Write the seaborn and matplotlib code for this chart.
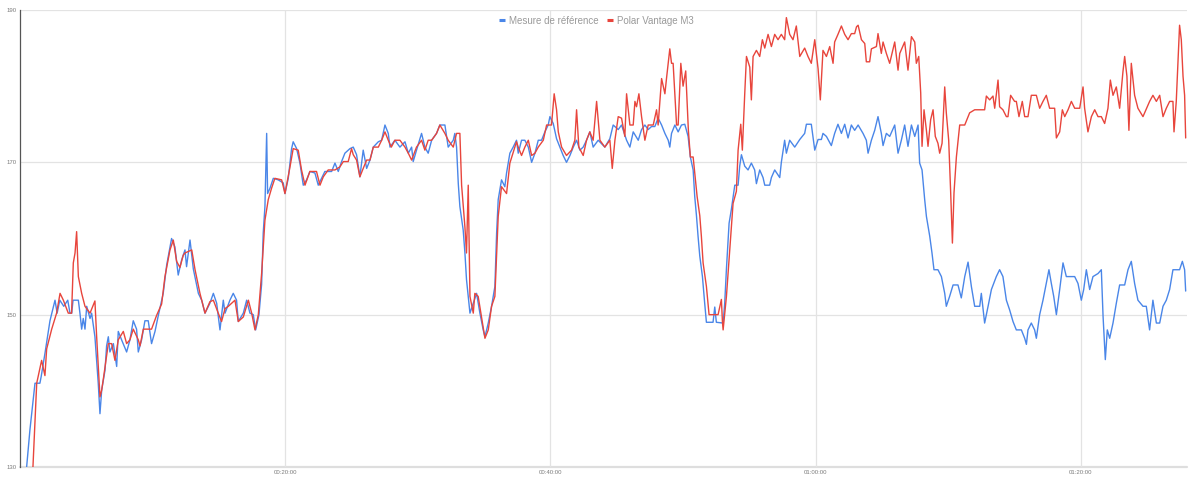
import numpy as np
import pandas as pd
import matplotlib
matplotlib.use("Agg")
import matplotlib.pyplot as plt
from matplotlib.lines import Line2D
from matplotlib.ticker import FixedLocator, FuncFormatter
import seaborn as sns

# ---------------- data (time in minutes, heart rate in bpm) ----------------
series_names = ["Mesure de référence", "Polar Vantage M3"]
series_colors = ["#4a86e8", "#e8453c"]

ref_t = [0.5, 0.75, 1.13, 1.5, 1.6, 1.88, 2.26, 2.64, 2.8, 3.0, 3.3, 3.6, 3.77, 3.9, 4.0, 4.4, 4.52, 4.65, 4.77, 4.9,
         5.03, 5.28, 5.4, 5.65, 5.9, 6.03, 6.16, 6.41, 6.53, 6.66, 6.78, 7.04, 7.29, 7.41, 7.66, 8.04, 8.29, 8.54, 8.79, 8.92,
         9.17, 9.42, 9.67, 9.92, 10.18, 10.43, 10.8, 11.06, 11.43, 11.68, 11.93, 12.19, 12.44, 12.56, 12.82,
         13.07, 13.45, 13.7, 13.95, 14.32, 14.58, 14.83, 15.08, 15.33, 15.46, 15.83, 16.08, 16.33, 16.46, 16.84, 17.09, 17.34,
         17.59, 17.77, 18.02, 18.22, 18.34, 18.47, 18.6, 18.67, 18.85, 19.1, 19.47, 19.85, 19.98, 20.23, 20.48, 20.6, 20.86,
         21.11, 21.36, 21.61, 21.86, 22.24, 22.49, 22.74, 22.99, 23.5, 23.75, 24.0, 24.25, 24.5, 24.88,
         25.13, 25.38, 25.63, 25.88, 26.14, 26.39, 26.64, 27.02, 27.27, 27.52, 27.77, 27.9, 28.27, 28.65, 29.03, 29.28, 29.53,
         29.65, 29.9, 30.28, 30.53, 30.78, 31.04, 31.41, 31.66, 32.04, 32.29, 32.67, 32.79, 32.92, 33.05, 33.17, 33.42, 33.55,
         33.67, 33.93, 34.18, 34.43, 34.68, 34.93, 35.06, 35.31, 35.56, 35.81, 35.94, 36.06, 36.31, 36.56, 36.69, 36.94, 37.19,
         37.44,
         37.57, 37.82, 38.07, 38.33, 38.58, 38.83, 39.08, 39.33, 39.58, 39.83, 39.96, 40.21, 40.46, 40.71, 40.96, 41.21, 41.47,
         41.72, 41.97, 42.22, 42.47, 42.72, 42.97, 43.22, 43.6, 44.1, 44.48, 44.73, 45.11, 45.36, 45.74, 45.99, 46.24, 46.62,
         46.87, 47.12, 47.37, 47.62, 47.87, 48.12, 48.38, 48.63, 48.88, 49.0, 49.13, 49.38, 49.63, 49.88,
         50.13, 50.38, 50.55, 50.76, 50.88, 51.01, 51.13, 51.26, 51.46, 51.63, 51.76, 52.26, 52.39, 52.51, 53.02, 53.14, 53.27,
         53.47, 53.64, 53.9, 54.15, 54.27, 54.4, 54.65, 54.9, 55.15, 55.4, 55.53, 55.78, 56.03, 56.16, 56.53, 56.66, 56.91,
         57.29, 57.41, 57.66, 57.79, 58.04, 58.42, 58.8, 59.17, 59.3, 59.67, 59.93, 60.18, 60.43, 60.55, 60.81, 61.18, 61.43,
         61.68, 61.94, 62.19,
         62.44, 62.69, 62.94, 63.2, 63.57, 63.82, 63.95, 64.2, 64.45, 64.7, 64.95, 65.08, 65.33, 65.58, 65.96, 66.21, 66.46,
         66.71, 66.96, 67.22, 67.47, 67.72, 67.84, 68.02, 68.22, 68.35, 68.6, 68.77, 68.92, 69.22, 69.48, 69.73, 69.85, 70.1,
         70.36, 70.73, 70.98, 71.24, 71.49, 71.74, 71.99, 72.37, 72.49, 72.74, 73.0, 73.25, 73.62, 73.87, 74.12, 74.38, 74.63,
         74.88,
         75.13, 75.51, 75.76, 75.89, 76.01, 76.26, 76.51, 76.64, 76.89, 77.14, 77.39, 77.59, 77.77, 77.95, 78.15, 78.4, 78.65,
         78.9, 79.53, 79.78, 80.03, 80.21, 80.41, 80.66, 80.91, 81.29, 81.54, 81.67, 81.84, 81.99, 82.17, 82.42, 82.67, 82.92,
         83.3, 83.55, 83.8, 84.05, 84.3, 84.68, 84.93, 85.18, 85.43, 85.69, 85.94, 86.19, 86.44, 86.69, 86.94, 87.44, 87.65,
         87.82, 87.9]
ref_bpm = [130, 134.9, 141, 141, 141.9, 144.9, 149.2, 151.9, 150.2, 151.9, 151.1, 151.9, 150.2, 150.2, 151.9, 151.9, 150.2, 148.1, 149.5, 148.1,
           151.1, 149.5, 150.2, 147.1, 141, 137, 140.1, 142.7, 145.9, 147.1, 145.1, 146.2, 143.2, 147.8, 146.7, 145.1, 146.7, 149.2, 148.1, 145.1,
           146.7, 149.2, 149.2, 146.2, 147.8, 149.9, 152.8, 156.5, 160, 158.9, 155.2, 157.2, 158.5, 156.3, 159.8,
           156, 152.8, 151.9, 150.2, 151.5, 152.8, 151.5, 148, 151.9, 150.2, 151.9, 152.8, 151.9, 149.1, 150.2, 151.9, 150.2,
           150, 148, 150, 154, 160.7, 164.2, 173.8, 165.9, 166.6, 167.9, 167.7, 167.3, 165.9, 167.9, 171.8, 172.7, 171.8,
           169.9, 167, 167.7, 168.8, 168.6, 167, 167.9, 168.8, 168.8, 169.9, 168.8, 170.1, 171.2, 171.8,
           172, 171, 168.1, 171.6, 169.2, 170.3, 172, 172.7, 172.9, 174.9, 173.8, 172, 172.9, 172, 172.7, 171.2, 172,
           170.1, 171.6, 173.8, 172, 171.2, 172.9, 173.8, 174.9, 174.9, 172, 172.9, 173.8, 172, 167.2, 164.2, 161.1, 158.1,
           154.6, 150.2, 151.5, 152.8, 150.2, 148, 147.1, 148.9, 151.1, 153.7, 160.7, 165.1, 167.7, 166.8, 168.6, 171.2, 172,
           172.9,
           171.2, 172.9, 172.9, 172, 170, 171.2, 172.9, 172.9, 174, 174.9, 176, 175.1, 173.1, 172, 170.9, 170, 170.9,
           172, 172.9, 171.6, 172, 172.9, 174, 172, 172.9, 172, 173.1, 174.9, 174.3, 174.9, 172.9, 172, 174, 172.9,
           174.3, 174.9, 174.3, 174.7, 174.7, 175.8, 174.9, 173.8, 172.9, 172, 173.8, 174.9, 174, 174.9,
           175, 173.4, 170.7, 169, 165.5, 163, 160.3, 157.7, 155, 151.5, 149, 149, 151, 149, 148.9, 151.5, 156,
           162, 163.8, 167, 167, 169.5, 171, 169.5, 169, 169.9, 169, 167.2, 169, 168, 167, 167, 168, 169,
           168, 170, 172.9, 171.2, 172.9, 172, 173, 173.8, 175, 175, 171.6, 173, 173, 173.8, 173.4, 172.2, 173.8,
           175, 173.8, 175,
           173.2, 174.9, 174.2, 174.9, 173.8, 172.9, 171.2, 172.9, 174.2, 176, 173.8, 172.2, 173.8, 173.4, 174.9, 171.2, 172.9,
           174.9, 172.1, 174.9, 173.4, 174.9, 169.9, 169, 165.1, 162.9, 160.3, 158.1, 155.9, 155.9, 155, 152.8, 151.1, 152.4,
           153.9, 153.9, 152.2, 155, 156.9, 153.7, 151.1, 151.1, 152.8, 148.9, 151.1, 153.3, 155, 155.9, 155, 151.9, 150.6,
           149.1,
           148, 148, 146.9, 146.1, 148, 148.9, 148, 146.9, 150, 151.9, 154.1, 155.9, 154.1, 152.4, 150, 153.3, 156.8,
           155, 155, 154.1, 151.9, 153.3, 155.9, 153.3, 155, 155.4, 155.9, 149.8, 144.1, 148, 146.9, 148.9, 151.5, 153.9,
           153.9, 155.9, 157, 154.1, 151.9, 151.1, 151.1, 148, 151.9, 148.9, 148.9, 151.1, 151.9, 153.3, 155.9, 155.9, 157,
           155.9, 153.1]

polar_t = [0.95, 1.26, 1.63, 1.88, 2.01, 2.39, 2.76, 3.02, 3.27, 3.64, 3.89, 4.02, 4.15, 4.27, 4.4, 4.65, 4.9, 5.28, 5.65, 5.78,
           6.03, 6.16, 6.28, 6.48, 6.66, 6.91, 7.16, 7.41, 7.79, 8.04, 8.29, 8.54, 8.92, 9.05, 9.3, 9.92, 10.3, 10.68, 10.93,
           11.31, 11.56, 11.81, 12.06, 12.31, 12.44,
           12.95, 13.2, 13.57, 13.95, 14.32, 14.58, 14.95, 15.2, 15.46, 15.71, 16.21, 16.46, 16.84, 17.22, 17.47, 17.72, 17.97,
           18.22, 18.47, 18.72, 18.97, 19.22, 19.73, 19.98, 20.36, 20.6, 20.98, 21.23, 21.49, 21.86, 22.36, 22.62, 22.87, 23.24,
           23.75, 24.12, 24.38, 24.75, 25.0,
           25.13, 25.38, 25.63, 25.88, 26.14, 26.39, 26.64, 27.02, 27.27, 27.52, 27.77, 28.0, 28.27, 28.65, 29.03, 29.28, 29.53,
           29.9, 30.28, 30.53, 30.78, 31.04, 31.41, 31.66, 32.04, 32.29, 32.67, 32.92, 33.17, 33.3, 33.55, 33.67, 33.8, 33.93,
           34.18, 34.3, 34.55, 34.8, 35.06, 35.31, 35.56, 35.81, 36.06, 36.31, 36.69, 36.94, 37.44,
           37.57, 37.82, 38.07, 38.33, 38.58, 38.83, 39.08, 39.46, 39.71, 40.08, 40.28, 40.46, 40.59, 40.84, 41.21, 41.59, 41.84,
           41.97, 42.14, 42.47, 42.72, 42.97, 43.22, 43.48, 43.73, 44.1, 44.48, 44.66, 44.86, 45.11, 45.36, 45.61, 45.74, 45.99,
           46.24, 46.37, 46.49, 46.67, 46.87, 47.12, 47.37, 47.75, 48.0, 48.12, 48.38, 48.63, 48.75, 49.0, 49.13, 49.25, 49.51,
           49.63, 49.83, 50.0, 50.2,
           50.4, 50.55, 50.76, 51.06, 51.26, 51.38, 51.51, 51.76, 51.96, 52.64, 52.89, 52.97, 53.02, 53.27, 53.52, 53.77, 54.02,
           54.15, 54.35, 54.47, 54.65, 54.78, 55.03, 55.15, 55.28, 55.53, 55.78, 55.98, 56.16, 56.41, 56.66, 56.91, 57.16, 57.41,
           57.66, 57.79, 58.04, 58.29, 58.54, 58.8, 59.17, 59.42, 59.67, 59.93, 60.18, 60.35, 60.55, 60.81, 61.06, 61.31, 61.43,
           61.68, 61.94, 62.19, 62.44,
           62.69, 62.94, 63.08, 63.2, 63.45, 63.7, 63.82, 64.07, 64.2, 64.58, 64.7, 64.95, 65.08, 65.33, 65.58, 65.96, 66.21,
           66.34, 66.71, 66.96, 67.22, 67.47, 67.59, 67.77, 67.92, 68.02, 68.17, 68.35, 68.47, 68.67, 68.85, 69.02, 69.22, 69.35,
           69.53, 69.73, 69.85, 70.03, 70.18, 70.31, 70.43, 70.61, 70.86, 71.24, 71.61, 71.99, 72.74, 72.87, 73.12, 73.37, 73.5,
           73.75, 73.87, 74.12, 74.38, 74.5, 74.7, 75.0,
           75.13, 75.33, 75.58, 75.76, 76.01, 76.26, 76.64, 76.89, 77.14, 77.39, 77.64, 78.02, 78.15, 78.4, 78.6, 78.78, 79.03,
           79.28, 79.53, 79.91, 80.16, 80.28, 80.53, 80.79, 81.04, 81.29, 81.54, 81.79, 82.04, 82.22, 82.42, 82.67, 82.92, 83.17,
           83.3, 83.47, 83.62, 83.8, 84.05, 84.3, 84.68, 85.18, 85.43, 85.69, 85.94, 86.19, 86.44, 86.69, 86.94, 87.02, 87.19,
           87.44, 87.57, 87.7, 87.82, 87.9]
polar_bpm = [129, 141, 144, 142, 145.5, 148.1, 150.2, 152.8, 151.9, 150.2, 150.2, 156.8, 158.1, 160.9, 155, 152.8, 151.1, 150.2, 151.8, 147.1,
             139.2, 140.1, 141.5, 144, 146.2, 146.2, 144, 146.7, 147.8, 146.2, 146.7, 148.1, 146.7, 145.9, 148.1, 148.1, 149.9, 151.4, 155,
             158.5, 159.8, 157, 156.2, 157.8, 158.1,
             158.5, 155.9, 152.8, 150.2, 151.7, 151.9, 150.2, 149.1, 150.8, 151.1, 151.9, 149.1, 149.7, 151.9, 150.2, 148, 150,
             155.4, 162.4, 165.1, 166.6, 167.9, 167.7, 165.9, 169.4, 171.8, 171.6, 169, 167, 168.8, 168.8, 167, 168.1, 169,
             169, 169.4, 170.1, 170.1, 171.8,
             171, 170.3, 168.1, 169.2, 170.3, 170.3, 172, 172, 172.9, 174, 172.9, 172, 172.9, 172.9, 172, 171.2, 170.3,
             172, 172.9, 171.6, 172.9, 172.9, 173.8, 174.9, 173.8, 172.9, 172, 173.8, 173.8, 167, 161.5, 158.1, 167, 152.4,
             150.2, 152.8, 152.4, 149.7, 146.9, 148, 151.1, 152.4, 162.9, 166.8, 165.9, 169.9, 172.7,
             172, 170.9, 172, 172.9, 170.9, 171.2, 172, 172.9, 174.9, 174.9, 179, 176.9, 174, 172, 170.9, 171.6, 172.9,
             176.9, 172, 170.9, 172.9, 174, 172.9, 178, 172.9, 172, 172.9, 169.2, 172.9, 176, 175.8, 173.4, 179, 174.9,
             174.9, 178, 177.3, 179, 176, 172.9, 174.9, 174.9, 176.9, 174.9, 181, 179, 181, 184.9, 183, 183, 174.9,
             174.9, 183, 180, 182,
             174.2, 170.7, 170.7, 165.5, 163, 160.3, 156.8, 153.7, 150, 150, 152, 149, 148, 152.4, 158.6, 164.6, 166.2,
             171.6, 175, 171.6, 179, 183.9, 182.5, 178.2, 183.9, 184.7, 183.9, 186.1, 185, 186.8, 185.2, 186.8, 186.1, 186.8,
             186.1, 189, 186.8, 186.1, 187.9, 183.9, 185, 183.9, 183, 186.1, 182.3, 178.2, 184.7, 183.9, 185.2, 183, 185.8,
             186.8, 187.9, 186.8, 186.1,
             186.9, 186.9, 187.8, 188, 186.1, 185.6, 183.2, 183.2, 184.9, 185.2, 186.9, 184.3, 185.8, 184.3, 183, 185.8, 182.1,
             184.3, 185.8, 182.1, 186.5, 185.8, 183, 183.9, 179.1, 172.1, 176.9, 174.2, 172.1, 175.6, 176.9, 173.4, 172.5, 171.2,
             172.5, 179.9, 176.5, 172.9, 166, 159.4, 166, 170.7, 174.9, 174.9, 176.5, 176.9, 176.9, 178.7, 178.2, 178.7, 177.1,
             180.8, 177.3, 176.9, 176, 176, 178.8, 178,
             178, 176, 178, 176, 176, 178.8, 178.8, 177.1, 178, 178.8, 177.1, 177.1, 173.2, 174, 176.9, 176, 176.9,
             178, 177.1, 177.1, 179.9, 177.1, 174, 176, 176.9, 176, 176, 175.1, 177.1, 180.8, 178.8, 179.9, 177.1, 181.9,
             183.9, 181.3, 174.2, 183, 178.8, 177.1, 176, 178, 178.8, 178, 178.8, 176, 177.1, 178, 178, 174, 178,
             188, 186.1, 181.3, 178.8, 173.2]

y_ticks = [130, 150, 170, 190]
x_ticks_min = [20, 40, 60, 80]

# ---------------- build long-form frame ----------------
df = pd.concat([
    pd.DataFrame({"t": ref_t, "bpm": ref_bpm, "serie": series_names[0]}),
    pd.DataFrame({"t": polar_t, "bpm": polar_bpm, "serie": series_names[1]}),
], ignore_index=True)

sns.set_style("white")
plt.rcParams["font.family"] = ["Liberation Sans", "DejaVu Sans"]

fig = plt.figure(figsize=(12, 4.8), dpi=100)
ax = fig.add_axes([20 / 1200, 13 / 480, 1167 / 1200, 457 / 480])

sns.lineplot(data=df, x="t", y="bpm", hue="serie", hue_order=series_names,
             palette=dict(zip(series_names, series_colors)), estimator=None,
             sort=False, linewidth=1.0, legend=False, ax=ax)

ax.set_xlim(0, 88)
ax.set_ylim(130, 190)
ax.set_xlabel("")
ax.set_ylabel("")

ax.yaxis.set_major_locator(FixedLocator(y_ticks))
ax.xaxis.set_major_locator(FixedLocator(x_ticks_min))


def fmt_time(v, pos):
    m = int(round(v))
    return f"{m // 60:02d}:{m % 60:02d}:00"


ax.xaxis.set_major_formatter(FuncFormatter(fmt_time))
ax.tick_params(axis="both", length=0, labelsize=4.3, labelcolor="#7a7a7a")
ax.tick_params(axis="y", pad=2.5)
ax.tick_params(axis="x", pad=2.0)

ax.grid(True, color="#e3e3e3", linewidth=0.9)
ax.set_axisbelow(True)
ax.axhline(130, color="#dedede", linewidth=1.6, clip_on=False, zorder=0)
for s in ["top", "right", "bottom"]:
    ax.spines[s].set_visible(False)
ax.spines["left"].set_color("#555555")
ax.spines["left"].set_linewidth(0.9)

handles = [Line2D([0], [0], color=c, lw=2.2, solid_capstyle="butt") for c in series_colors]
leg = ax.legend(handles, series_names, loc="center", bbox_to_anchor=(0.494, 0.977),
                ncol=2, frameon=False, fontsize=7, handlelength=0.6, handletextpad=0.45,
                columnspacing=0.8, borderaxespad=0)
for txt in leg.get_texts():
    txt.set_color("#9a9a9a")

fig.savefig("out.png", dpi=100)
